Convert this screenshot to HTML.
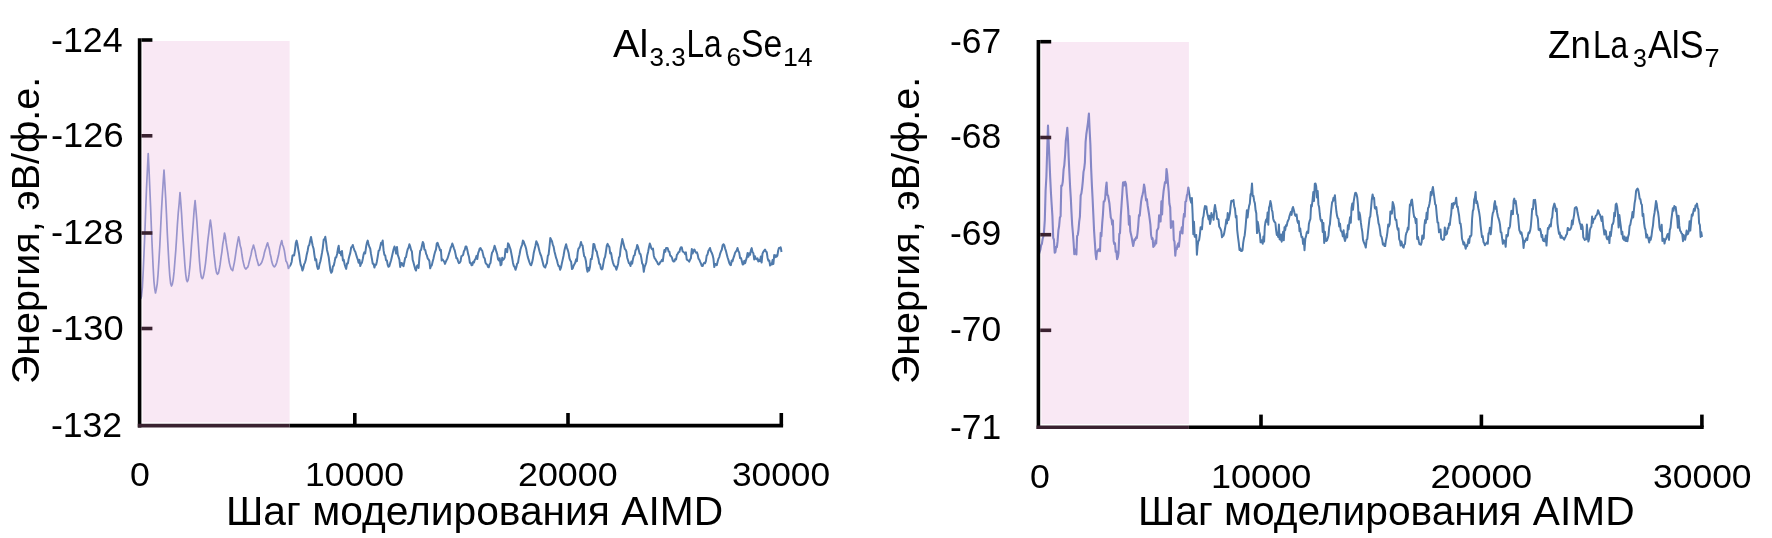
<!DOCTYPE html>
<html><head><meta charset="utf-8"><style>
html,body{margin:0;padding:0;background:#fff;width:1772px;height:538px;overflow:hidden}
svg{display:block;will-change:transform}
text{font-family:"Liberation Sans",sans-serif;fill:#000}
</style></head><body>
<svg width="1772" height="538" viewBox="0 0 1772 538">
<rect width="1772" height="538" fill="#fff"/>
<rect x="142.6" y="41.0" width="147.0" height="381.4" fill="#f9e8f4"/>
<clipPath id="inL"><rect x="0" y="0" width="289.6" height="538"/></clipPath>
<clipPath id="outL"><rect x="289.6" y="0" width="900" height="538"/></clipPath>
<polyline clip-path="url(#inL)" points="140.7,299.0 141.5,296.2 142.4,286.9 143.2,271.6 144.0,253.5 144.9,232.2 145.7,209.8 146.5,188.6 147.4,169.8 148.2,153.6 149.0,169.2 149.8,188.3 150.6,207.3 151.4,228.5 152.3,249.1 153.1,266.3 153.9,280.8 154.7,288.7 155.5,293.0 156.3,289.4 157.2,284.1 158.1,273.8 158.9,261.1 159.8,245.6 160.6,229.0 161.4,212.1 162.3,196.3 163.2,181.8 164.0,170.0 164.8,183.0 165.7,198.4 166.5,214.9 167.3,233.2 168.2,250.1 169.0,264.8 169.8,276.1 170.7,283.8 171.5,286.0 172.3,284.3 173.2,279.6 174.1,271.4 174.9,261.3 175.8,250.1 176.6,237.7 177.4,224.6 178.3,212.3 179.2,203.0 180.0,192.5 180.8,202.7 181.6,214.1 182.4,228.2 183.2,240.7 184.1,253.5 184.9,265.4 185.7,274.1 186.5,280.0 187.3,281.7 188.2,279.9 189.0,274.7 189.9,266.7 190.8,255.3 191.6,243.9 192.5,232.6 193.4,220.6 194.2,209.0 195.1,200.5 196.0,210.5 196.9,221.5 197.8,235.8 198.6,247.6 199.5,261.1 200.4,271.3 201.3,277.0 202.2,278.7 203.0,277.7 203.8,274.3 204.7,269.1 205.5,263.5 206.3,256.1 207.1,247.9 207.9,239.9 208.8,232.8 209.6,225.3 210.4,220.0 211.3,226.7 212.2,235.0 213.1,244.5 213.9,253.2 214.8,260.9 215.7,268.5 216.6,272.8 217.5,274.3 218.4,273.3 219.2,269.8 220.1,264.7 221.0,257.7 221.9,251.8 222.8,243.8 223.6,239.8 224.5,233.0 225.3,236.2 226.1,242.4 227.0,248.1 227.8,252.9 228.6,258.5 229.4,263.1 230.3,266.6 231.1,269.0 231.9,269.8 232.7,270.7 233.6,266.2 234.4,262.3 235.2,257.3 236.1,251.1 236.9,246.0 237.8,240.8 238.6,236.8 239.4,240.1 240.2,245.8 241.1,248.5 241.9,254.5 242.7,259.5 243.5,263.1 244.4,266.8 245.2,268.3 246.0,269.0 246.8,267.9 247.7,267.3 248.5,264.9 249.3,261.5 250.2,257.9 251.0,254.9 251.8,250.5 252.7,247.8 253.5,245.0 254.3,248.1 255.2,251.2 256.0,255.8 256.9,259.6 257.7,262.3 258.6,265.5 259.4,265.3 260.2,264.5 261.0,263.6 261.9,262.0 262.7,259.5 263.5,257.1 264.3,253.1 265.1,250.3 266.0,247.6 266.8,244.9 267.6,242.8 268.4,245.9 269.3,248.8 270.1,253.7 271.0,257.3 271.8,261.8 272.6,264.3 273.5,266.0 274.3,266.8 275.1,266.2 276.0,264.5 276.8,262.2 277.6,258.7 278.5,255.3 279.3,250.8 280.1,246.4 281.0,243.1 281.8,240.6 282.6,245.0 283.4,246.7 284.3,250.4 285.1,255.3 285.9,260.9 286.7,262.0 287.6,264.5 288.4,268.5 289.2,266.8 290.0,265.7 290.8,264.4 291.7,261.7 292.5,255.7 293.3,255.2 294.1,255.5 295.0,250.1 295.8,243.0 296.6,240.6 297.4,243.9 298.3,249.6 299.1,253.8 299.9,260.1 300.7,264.8 301.6,266.7 302.4,270.5 303.3,268.4 304.1,264.4 305.0,262.6 305.8,259.8 306.7,254.7 307.6,251.0 308.4,246.3 309.3,244.9 310.1,240.7 311.0,237.0 311.9,241.8 312.7,245.7 313.6,248.7 314.4,254.8 315.3,260.3 316.2,259.3 317.0,266.0 317.9,269.0 318.7,268.5 319.5,264.1 320.4,261.2 321.2,257.2 322.0,252.9 322.8,247.8 323.7,239.5 324.5,239.5 325.3,236.8 326.2,243.0 327.0,249.9 327.9,253.6 328.7,257.1 329.6,264.4 330.4,270.3 331.3,272.8 332.1,271.5 332.9,266.5 333.8,265.5 334.6,261.8 335.4,257.6 336.2,257.6 337.1,254.0 337.9,249.1 338.7,245.8 339.5,253.1 340.4,252.0 341.2,255.4 342.0,251.0 342.9,260.4 343.7,259.6 344.6,264.2 345.4,266.8 346.2,268.9 347.0,263.6 347.9,263.4 348.7,258.7 349.5,255.6 350.3,252.9 351.2,247.3 352.0,246.9 352.8,245.0 353.6,247.7 354.5,250.5 355.3,251.8 356.1,254.5 357.0,257.4 357.8,259.6 358.6,262.7 359.5,259.9 360.3,266.0 361.1,263.7 361.9,262.9 362.8,258.9 363.6,254.3 364.4,252.2 365.2,253.4 366.1,246.8 366.9,242.9 367.7,240.6 368.5,244.0 369.4,247.0 370.2,248.5 371.0,253.9 371.9,258.7 372.7,263.7 373.6,263.7 374.4,267.6 375.2,264.9 376.1,264.7 376.9,261.4 377.8,256.2 378.6,250.9 379.4,250.3 380.3,246.4 381.1,242.8 381.9,244.5 382.7,240.5 383.6,250.4 384.4,254.9 385.2,255.3 386.0,260.2 386.9,260.5 387.7,264.9 388.5,266.8 389.4,266.1 390.2,263.1 391.1,260.3 391.9,256.7 392.8,252.8 393.6,249.2 394.5,246.5 395.3,248.9 396.1,253.6 397.0,247.0 397.8,254.9 398.6,257.1 399.4,259.7 400.2,267.0 401.1,263.0 401.9,263.0 402.7,265.3 403.5,266.2 404.4,261.7 405.2,257.8 406.0,257.2 406.9,252.4 407.7,249.2 408.6,247.5 409.4,244.3 410.2,246.4 411.0,249.8 411.9,251.5 412.7,260.0 413.5,262.4 414.4,266.0 415.2,269.0 416.0,270.5 416.9,266.2 417.7,265.2 418.6,268.0 419.4,257.7 420.2,250.9 421.1,249.8 421.9,246.0 422.8,242.0 423.6,243.6 424.4,249.5 425.3,250.1 426.1,253.9 426.9,255.4 427.7,258.6 428.5,259.2 429.4,261.0 430.2,268.3 431.0,266.0 431.8,265.4 432.6,261.8 433.5,258.4 434.3,254.7 435.1,251.8 436.0,249.4 436.8,243.5 437.6,242.8 438.4,245.4 439.2,247.3 440.1,250.5 440.9,249.9 441.7,260.6 442.5,259.3 443.4,260.5 444.2,261.7 445.0,263.9 445.8,261.7 446.6,260.0 447.4,258.7 448.2,256.2 449.1,253.3 449.9,250.9 450.7,247.8 451.5,246.2 452.3,243.5 453.1,245.7 453.9,248.3 454.8,250.6 455.6,254.4 456.4,258.2 457.2,258.3 458.1,261.3 458.9,263.1 459.7,262.6 460.6,261.2 461.4,256.2 462.2,255.8 463.1,255.0 463.9,251.2 464.7,249.9 465.6,246.5 466.4,246.5 467.3,249.7 468.1,253.9 469.0,256.8 469.9,262.8 470.7,262.7 471.6,265.3 472.4,264.9 473.2,261.7 474.0,262.5 474.8,259.8 475.6,258.8 476.5,255.9 477.3,259.1 478.1,253.4 478.9,251.1 479.7,248.5 480.5,248.0 481.3,249.7 482.2,250.6 483.0,254.1 483.8,257.4 484.7,258.4 485.5,262.8 486.3,264.0 487.2,264.6 488.0,266.8 488.8,267.3 489.6,264.3 490.5,263.0 491.3,256.6 492.1,252.5 493.0,251.3 493.8,248.8 494.6,245.8 495.5,248.5 496.3,251.4 497.2,254.2 498.0,259.1 498.9,260.5 499.7,258.2 500.6,265.3 501.4,264.6 502.2,257.8 503.1,259.9 503.9,259.0 504.7,257.5 505.5,249.1 506.3,249.2 507.2,252.2 508.0,243.3 508.8,244.3 509.6,246.7 510.5,249.3 511.3,253.2 512.1,257.5 513.0,262.9 513.8,265.9 514.7,267.1 515.5,269.8 516.3,267.5 517.1,263.8 518.0,262.9 518.8,257.7 519.6,254.2 520.4,249.7 521.3,246.8 522.1,244.8 522.9,240.6 523.7,241.4 524.5,244.2 525.4,246.2 526.2,249.1 527.0,253.5 527.8,257.1 528.6,259.6 529.5,262.5 530.3,264.5 531.1,265.3 532.0,262.7 532.8,259.3 533.7,253.1 534.6,249.3 535.4,246.0 536.3,241.3 537.1,243.0 537.9,244.7 538.7,247.9 539.5,251.3 540.3,254.0 541.2,256.0 542.0,259.2 542.8,262.4 543.6,265.7 544.4,266.9 545.2,267.6 546.1,264.7 546.9,263.3 547.8,256.0 548.6,254.6 549.5,246.4 550.3,238.0 551.2,239.8 552.0,241.2 552.8,244.9 553.6,246.6 554.4,251.2 555.2,254.3 556.1,257.9 556.9,260.0 557.7,263.5 558.5,266.0 559.3,266.3 560.1,269.8 561.0,267.7 561.8,263.6 562.7,259.6 563.5,256.0 564.4,250.6 565.2,247.2 566.1,244.3 566.9,247.6 567.8,250.1 568.6,252.9 569.5,258.4 570.3,260.5 571.1,261.6 572.0,269.1 572.8,268.3 573.6,265.8 574.4,264.3 575.3,262.5 576.1,259.3 576.9,261.1 577.7,252.4 578.5,248.5 579.4,247.8 580.2,245.2 581.0,242.0 581.8,245.0 582.6,245.6 583.4,251.5 584.2,256.3 585.0,257.1 585.9,260.9 586.7,268.0 587.5,271.7 588.3,267.8 589.1,270.5 590.0,266.8 590.8,259.0 591.7,259.1 592.6,253.2 593.4,244.1 594.3,244.3 595.1,247.7 595.9,250.5 596.8,251.6 597.6,256.2 598.4,258.5 599.2,263.7 600.1,264.3 600.9,268.6 601.7,269.4 602.5,268.7 603.4,263.4 604.2,258.8 605.1,256.8 605.9,251.8 606.8,245.7 607.6,243.8 608.5,245.9 609.4,247.1 610.2,253.4 611.1,252.9 612.0,258.5 612.9,262.3 613.8,264.9 614.6,266.3 615.5,266.7 616.4,269.8 617.2,267.1 618.1,263.9 618.9,257.8 619.8,256.1 620.6,248.7 621.5,243.7 622.3,239.0 623.1,242.2 623.9,245.2 624.8,248.9 625.6,249.7 626.4,251.7 627.2,257.7 628.0,260.3 628.9,263.2 629.7,263.7 630.5,266.0 631.3,261.6 632.2,263.7 633.0,258.9 633.9,255.6 634.7,255.2 635.5,250.4 636.4,248.9 637.2,245.0 638.0,246.8 638.8,250.2 639.7,253.7 640.5,254.1 641.3,257.9 642.1,263.2 643.0,264.8 643.8,271.8 644.6,266.8 645.5,264.6 646.3,262.2 647.2,255.4 648.1,251.9 648.9,247.5 649.8,243.5 650.6,245.7 651.4,248.5 652.2,249.5 653.0,248.6 653.8,255.7 654.7,258.4 655.5,259.2 656.3,260.9 657.1,261.8 657.9,263.9 658.7,264.6 659.5,263.8 660.3,262.0 661.2,261.4 662.0,259.8 662.8,261.1 663.6,255.1 664.4,249.9 665.3,251.8 666.1,247.9 666.9,248.0 667.7,248.3 668.6,251.5 669.4,251.8 670.2,255.6 671.1,256.2 671.9,257.5 672.8,260.6 673.6,261.6 674.4,261.4 675.2,259.1 676.1,259.4 676.9,254.9 677.7,253.9 678.5,252.2 679.4,251.9 680.2,248.7 681.0,247.2 681.8,247.5 682.6,251.4 683.5,252.0 684.3,252.5 685.1,254.1 685.9,252.4 686.7,259.3 687.6,260.2 688.4,260.6 689.2,261.6 690.1,259.6 690.9,258.2 691.8,249.0 692.7,253.6 693.5,250.6 694.4,249.5 695.2,251.4 696.0,252.7 696.9,252.4 697.7,254.7 698.5,258.7 699.3,259.7 700.1,261.6 701.0,263.6 701.8,265.8 702.6,266.0 703.4,264.1 704.2,262.7 705.1,263.2 705.9,261.1 706.7,255.6 707.5,254.6 708.4,250.7 709.2,249.5 710.0,248.0 710.9,251.2 711.7,252.7 712.6,255.1 713.4,258.4 714.3,267.1 715.1,263.9 716.0,264.6 716.8,265.2 717.6,261.8 718.5,258.6 719.3,257.1 720.1,253.8 720.9,251.5 721.8,249.8 722.6,245.4 723.4,244.2 724.2,245.1 725.1,248.5 725.9,250.8 726.8,254.4 727.6,257.5 728.4,259.9 729.3,263.0 730.1,264.6 730.9,265.2 731.7,260.5 732.6,261.1 733.4,258.1 734.2,255.9 735.0,252.9 735.9,251.4 736.7,250.6 737.5,248.0 738.4,251.3 739.2,252.6 740.1,258.0 741.0,258.0 741.8,261.1 742.7,264.6 743.5,264.4 744.3,260.8 745.2,263.1 746.0,260.1 746.8,257.4 747.6,252.9 748.4,256.8 749.3,253.2 750.1,254.8 750.9,250.2 751.7,248.1 752.5,252.0 753.4,253.3 754.2,259.4 755.0,256.2 755.8,258.7 756.7,259.3 757.5,258.3 758.3,261.6 759.1,260.0 760.0,261.1 760.8,256.6 761.6,262.6 762.5,253.6 763.3,251.8 764.2,250.6 765.0,249.5 765.9,251.5 766.7,252.0 767.6,257.9 768.4,260.7 769.3,260.5 770.1,265.5 771.0,263.8 771.8,264.5 772.6,260.0 773.4,264.0 774.2,255.1 775.0,257.3 775.8,255.3 776.6,256.7 777.4,255.6 778.2,250.5 779.0,247.9 779.8,248.1 780.6,247.2 781.0,248.8 781.5,252.0" fill="none" stroke="#9894cc" stroke-width="1.7" stroke-linejoin="round"/>
<polyline clip-path="url(#outL)" points="140.7,299.0 141.5,296.2 142.4,286.9 143.2,271.6 144.0,253.5 144.9,232.2 145.7,209.8 146.5,188.6 147.4,169.8 148.2,153.6 149.0,169.2 149.8,188.3 150.6,207.3 151.4,228.5 152.3,249.1 153.1,266.3 153.9,280.8 154.7,288.7 155.5,293.0 156.3,289.4 157.2,284.1 158.1,273.8 158.9,261.1 159.8,245.6 160.6,229.0 161.4,212.1 162.3,196.3 163.2,181.8 164.0,170.0 164.8,183.0 165.7,198.4 166.5,214.9 167.3,233.2 168.2,250.1 169.0,264.8 169.8,276.1 170.7,283.8 171.5,286.0 172.3,284.3 173.2,279.6 174.1,271.4 174.9,261.3 175.8,250.1 176.6,237.7 177.4,224.6 178.3,212.3 179.2,203.0 180.0,192.5 180.8,202.7 181.6,214.1 182.4,228.2 183.2,240.7 184.1,253.5 184.9,265.4 185.7,274.1 186.5,280.0 187.3,281.7 188.2,279.9 189.0,274.7 189.9,266.7 190.8,255.3 191.6,243.9 192.5,232.6 193.4,220.6 194.2,209.0 195.1,200.5 196.0,210.5 196.9,221.5 197.8,235.8 198.6,247.6 199.5,261.1 200.4,271.3 201.3,277.0 202.2,278.7 203.0,277.7 203.8,274.3 204.7,269.1 205.5,263.5 206.3,256.1 207.1,247.9 207.9,239.9 208.8,232.8 209.6,225.3 210.4,220.0 211.3,226.7 212.2,235.0 213.1,244.5 213.9,253.2 214.8,260.9 215.7,268.5 216.6,272.8 217.5,274.3 218.4,273.3 219.2,269.8 220.1,264.7 221.0,257.7 221.9,251.8 222.8,243.8 223.6,239.8 224.5,233.0 225.3,236.2 226.1,242.4 227.0,248.1 227.8,252.9 228.6,258.5 229.4,263.1 230.3,266.6 231.1,269.0 231.9,269.8 232.7,270.7 233.6,266.2 234.4,262.3 235.2,257.3 236.1,251.1 236.9,246.0 237.8,240.8 238.6,236.8 239.4,240.1 240.2,245.8 241.1,248.5 241.9,254.5 242.7,259.5 243.5,263.1 244.4,266.8 245.2,268.3 246.0,269.0 246.8,267.9 247.7,267.3 248.5,264.9 249.3,261.5 250.2,257.9 251.0,254.9 251.8,250.5 252.7,247.8 253.5,245.0 254.3,248.1 255.2,251.2 256.0,255.8 256.9,259.6 257.7,262.3 258.6,265.5 259.4,265.3 260.2,264.5 261.0,263.6 261.9,262.0 262.7,259.5 263.5,257.1 264.3,253.1 265.1,250.3 266.0,247.6 266.8,244.9 267.6,242.8 268.4,245.9 269.3,248.8 270.1,253.7 271.0,257.3 271.8,261.8 272.6,264.3 273.5,266.0 274.3,266.8 275.1,266.2 276.0,264.5 276.8,262.2 277.6,258.7 278.5,255.3 279.3,250.8 280.1,246.4 281.0,243.1 281.8,240.6 282.6,245.0 283.4,246.7 284.3,250.4 285.1,255.3 285.9,260.9 286.7,262.0 287.6,264.5 288.4,268.5 289.2,266.8 290.0,265.7 290.8,264.4 291.7,261.7 292.5,255.7 293.3,255.2 294.1,255.5 295.0,250.1 295.8,243.0 296.6,240.6 297.4,243.9 298.3,249.6 299.1,253.8 299.9,260.1 300.7,264.8 301.6,266.7 302.4,270.5 303.3,268.4 304.1,264.4 305.0,262.6 305.8,259.8 306.7,254.7 307.6,251.0 308.4,246.3 309.3,244.9 310.1,240.7 311.0,237.0 311.9,241.8 312.7,245.7 313.6,248.7 314.4,254.8 315.3,260.3 316.2,259.3 317.0,266.0 317.9,269.0 318.7,268.5 319.5,264.1 320.4,261.2 321.2,257.2 322.0,252.9 322.8,247.8 323.7,239.5 324.5,239.5 325.3,236.8 326.2,243.0 327.0,249.9 327.9,253.6 328.7,257.1 329.6,264.4 330.4,270.3 331.3,272.8 332.1,271.5 332.9,266.5 333.8,265.5 334.6,261.8 335.4,257.6 336.2,257.6 337.1,254.0 337.9,249.1 338.7,245.8 339.5,253.1 340.4,252.0 341.2,255.4 342.0,251.0 342.9,260.4 343.7,259.6 344.6,264.2 345.4,266.8 346.2,268.9 347.0,263.6 347.9,263.4 348.7,258.7 349.5,255.6 350.3,252.9 351.2,247.3 352.0,246.9 352.8,245.0 353.6,247.7 354.5,250.5 355.3,251.8 356.1,254.5 357.0,257.4 357.8,259.6 358.6,262.7 359.5,259.9 360.3,266.0 361.1,263.7 361.9,262.9 362.8,258.9 363.6,254.3 364.4,252.2 365.2,253.4 366.1,246.8 366.9,242.9 367.7,240.6 368.5,244.0 369.4,247.0 370.2,248.5 371.0,253.9 371.9,258.7 372.7,263.7 373.6,263.7 374.4,267.6 375.2,264.9 376.1,264.7 376.9,261.4 377.8,256.2 378.6,250.9 379.4,250.3 380.3,246.4 381.1,242.8 381.9,244.5 382.7,240.5 383.6,250.4 384.4,254.9 385.2,255.3 386.0,260.2 386.9,260.5 387.7,264.9 388.5,266.8 389.4,266.1 390.2,263.1 391.1,260.3 391.9,256.7 392.8,252.8 393.6,249.2 394.5,246.5 395.3,248.9 396.1,253.6 397.0,247.0 397.8,254.9 398.6,257.1 399.4,259.7 400.2,267.0 401.1,263.0 401.9,263.0 402.7,265.3 403.5,266.2 404.4,261.7 405.2,257.8 406.0,257.2 406.9,252.4 407.7,249.2 408.6,247.5 409.4,244.3 410.2,246.4 411.0,249.8 411.9,251.5 412.7,260.0 413.5,262.4 414.4,266.0 415.2,269.0 416.0,270.5 416.9,266.2 417.7,265.2 418.6,268.0 419.4,257.7 420.2,250.9 421.1,249.8 421.9,246.0 422.8,242.0 423.6,243.6 424.4,249.5 425.3,250.1 426.1,253.9 426.9,255.4 427.7,258.6 428.5,259.2 429.4,261.0 430.2,268.3 431.0,266.0 431.8,265.4 432.6,261.8 433.5,258.4 434.3,254.7 435.1,251.8 436.0,249.4 436.8,243.5 437.6,242.8 438.4,245.4 439.2,247.3 440.1,250.5 440.9,249.9 441.7,260.6 442.5,259.3 443.4,260.5 444.2,261.7 445.0,263.9 445.8,261.7 446.6,260.0 447.4,258.7 448.2,256.2 449.1,253.3 449.9,250.9 450.7,247.8 451.5,246.2 452.3,243.5 453.1,245.7 453.9,248.3 454.8,250.6 455.6,254.4 456.4,258.2 457.2,258.3 458.1,261.3 458.9,263.1 459.7,262.6 460.6,261.2 461.4,256.2 462.2,255.8 463.1,255.0 463.9,251.2 464.7,249.9 465.6,246.5 466.4,246.5 467.3,249.7 468.1,253.9 469.0,256.8 469.9,262.8 470.7,262.7 471.6,265.3 472.4,264.9 473.2,261.7 474.0,262.5 474.8,259.8 475.6,258.8 476.5,255.9 477.3,259.1 478.1,253.4 478.9,251.1 479.7,248.5 480.5,248.0 481.3,249.7 482.2,250.6 483.0,254.1 483.8,257.4 484.7,258.4 485.5,262.8 486.3,264.0 487.2,264.6 488.0,266.8 488.8,267.3 489.6,264.3 490.5,263.0 491.3,256.6 492.1,252.5 493.0,251.3 493.8,248.8 494.6,245.8 495.5,248.5 496.3,251.4 497.2,254.2 498.0,259.1 498.9,260.5 499.7,258.2 500.6,265.3 501.4,264.6 502.2,257.8 503.1,259.9 503.9,259.0 504.7,257.5 505.5,249.1 506.3,249.2 507.2,252.2 508.0,243.3 508.8,244.3 509.6,246.7 510.5,249.3 511.3,253.2 512.1,257.5 513.0,262.9 513.8,265.9 514.7,267.1 515.5,269.8 516.3,267.5 517.1,263.8 518.0,262.9 518.8,257.7 519.6,254.2 520.4,249.7 521.3,246.8 522.1,244.8 522.9,240.6 523.7,241.4 524.5,244.2 525.4,246.2 526.2,249.1 527.0,253.5 527.8,257.1 528.6,259.6 529.5,262.5 530.3,264.5 531.1,265.3 532.0,262.7 532.8,259.3 533.7,253.1 534.6,249.3 535.4,246.0 536.3,241.3 537.1,243.0 537.9,244.7 538.7,247.9 539.5,251.3 540.3,254.0 541.2,256.0 542.0,259.2 542.8,262.4 543.6,265.7 544.4,266.9 545.2,267.6 546.1,264.7 546.9,263.3 547.8,256.0 548.6,254.6 549.5,246.4 550.3,238.0 551.2,239.8 552.0,241.2 552.8,244.9 553.6,246.6 554.4,251.2 555.2,254.3 556.1,257.9 556.9,260.0 557.7,263.5 558.5,266.0 559.3,266.3 560.1,269.8 561.0,267.7 561.8,263.6 562.7,259.6 563.5,256.0 564.4,250.6 565.2,247.2 566.1,244.3 566.9,247.6 567.8,250.1 568.6,252.9 569.5,258.4 570.3,260.5 571.1,261.6 572.0,269.1 572.8,268.3 573.6,265.8 574.4,264.3 575.3,262.5 576.1,259.3 576.9,261.1 577.7,252.4 578.5,248.5 579.4,247.8 580.2,245.2 581.0,242.0 581.8,245.0 582.6,245.6 583.4,251.5 584.2,256.3 585.0,257.1 585.9,260.9 586.7,268.0 587.5,271.7 588.3,267.8 589.1,270.5 590.0,266.8 590.8,259.0 591.7,259.1 592.6,253.2 593.4,244.1 594.3,244.3 595.1,247.7 595.9,250.5 596.8,251.6 597.6,256.2 598.4,258.5 599.2,263.7 600.1,264.3 600.9,268.6 601.7,269.4 602.5,268.7 603.4,263.4 604.2,258.8 605.1,256.8 605.9,251.8 606.8,245.7 607.6,243.8 608.5,245.9 609.4,247.1 610.2,253.4 611.1,252.9 612.0,258.5 612.9,262.3 613.8,264.9 614.6,266.3 615.5,266.7 616.4,269.8 617.2,267.1 618.1,263.9 618.9,257.8 619.8,256.1 620.6,248.7 621.5,243.7 622.3,239.0 623.1,242.2 623.9,245.2 624.8,248.9 625.6,249.7 626.4,251.7 627.2,257.7 628.0,260.3 628.9,263.2 629.7,263.7 630.5,266.0 631.3,261.6 632.2,263.7 633.0,258.9 633.9,255.6 634.7,255.2 635.5,250.4 636.4,248.9 637.2,245.0 638.0,246.8 638.8,250.2 639.7,253.7 640.5,254.1 641.3,257.9 642.1,263.2 643.0,264.8 643.8,271.8 644.6,266.8 645.5,264.6 646.3,262.2 647.2,255.4 648.1,251.9 648.9,247.5 649.8,243.5 650.6,245.7 651.4,248.5 652.2,249.5 653.0,248.6 653.8,255.7 654.7,258.4 655.5,259.2 656.3,260.9 657.1,261.8 657.9,263.9 658.7,264.6 659.5,263.8 660.3,262.0 661.2,261.4 662.0,259.8 662.8,261.1 663.6,255.1 664.4,249.9 665.3,251.8 666.1,247.9 666.9,248.0 667.7,248.3 668.6,251.5 669.4,251.8 670.2,255.6 671.1,256.2 671.9,257.5 672.8,260.6 673.6,261.6 674.4,261.4 675.2,259.1 676.1,259.4 676.9,254.9 677.7,253.9 678.5,252.2 679.4,251.9 680.2,248.7 681.0,247.2 681.8,247.5 682.6,251.4 683.5,252.0 684.3,252.5 685.1,254.1 685.9,252.4 686.7,259.3 687.6,260.2 688.4,260.6 689.2,261.6 690.1,259.6 690.9,258.2 691.8,249.0 692.7,253.6 693.5,250.6 694.4,249.5 695.2,251.4 696.0,252.7 696.9,252.4 697.7,254.7 698.5,258.7 699.3,259.7 700.1,261.6 701.0,263.6 701.8,265.8 702.6,266.0 703.4,264.1 704.2,262.7 705.1,263.2 705.9,261.1 706.7,255.6 707.5,254.6 708.4,250.7 709.2,249.5 710.0,248.0 710.9,251.2 711.7,252.7 712.6,255.1 713.4,258.4 714.3,267.1 715.1,263.9 716.0,264.6 716.8,265.2 717.6,261.8 718.5,258.6 719.3,257.1 720.1,253.8 720.9,251.5 721.8,249.8 722.6,245.4 723.4,244.2 724.2,245.1 725.1,248.5 725.9,250.8 726.8,254.4 727.6,257.5 728.4,259.9 729.3,263.0 730.1,264.6 730.9,265.2 731.7,260.5 732.6,261.1 733.4,258.1 734.2,255.9 735.0,252.9 735.9,251.4 736.7,250.6 737.5,248.0 738.4,251.3 739.2,252.6 740.1,258.0 741.0,258.0 741.8,261.1 742.7,264.6 743.5,264.4 744.3,260.8 745.2,263.1 746.0,260.1 746.8,257.4 747.6,252.9 748.4,256.8 749.3,253.2 750.1,254.8 750.9,250.2 751.7,248.1 752.5,252.0 753.4,253.3 754.2,259.4 755.0,256.2 755.8,258.7 756.7,259.3 757.5,258.3 758.3,261.6 759.1,260.0 760.0,261.1 760.8,256.6 761.6,262.6 762.5,253.6 763.3,251.8 764.2,250.6 765.0,249.5 765.9,251.5 766.7,252.0 767.6,257.9 768.4,260.7 769.3,260.5 770.1,265.5 771.0,263.8 771.8,264.5 772.6,260.0 773.4,264.0 774.2,255.1 775.0,257.3 775.8,255.3 776.6,256.7 777.4,255.6 778.2,250.5 779.0,247.9 779.8,248.1 780.6,247.2 781.0,248.8 781.5,252.0" fill="none" stroke="#4f7aab" stroke-width="2.0" stroke-linejoin="round"/>
<path d="M139.6,38.2 V427.40000000000003" stroke="#000" stroke-width="3.6" fill="none"/>
<path d="M137.79999999999998,425.6 H289.6" stroke="#3a2230" stroke-width="3.6" fill="none"/>
<path d="M289.6,425.6 H783.0999999999999" stroke="#000" stroke-width="3.6" fill="none"/>
<path d="M141.4,40.0 H152.4" stroke="#000" stroke-width="3.6"/>
<path d="M141.4,135.8 H152.4" stroke="#3a2230" stroke-width="3.6"/>
<path d="M141.4,233.0 H152.4" stroke="#3a2230" stroke-width="3.6"/>
<path d="M141.4,328.5 H152.4" stroke="#3a2230" stroke-width="3.6"/>
<path d="M354.8,425.6 V413.0" stroke="#000" stroke-width="3.6"/>
<path d="M568.0,425.6 V413.0" stroke="#000" stroke-width="3.6"/>
<path d="M781.3,425.6 V413.0" stroke="#000" stroke-width="3.6"/>
<rect x="1041.4" y="42.0" width="147.5" height="382.0" fill="#f9e8f4"/>
<clipPath id="inR"><rect x="0" y="0" width="1188.9" height="538"/></clipPath>
<clipPath id="outR"><rect x="1188.9" y="0" width="900" height="538"/></clipPath>
<polyline clip-path="url(#inR)" points="1039.0,254.0 1039.7,251.7 1040.4,249.7 1041.1,245.4 1041.9,243.8 1042.6,239.0 1043.3,236.7 1044.0,232.0 1044.8,220.2 1045.6,190.9 1046.4,176.5 1047.2,149.7 1048.0,125.6 1048.7,142.2 1049.5,161.0 1050.2,177.6 1051.0,193.7 1051.7,205.0 1052.4,215.9 1053.2,237.8 1053.9,239.5 1054.7,252.7 1055.4,252.0 1056.1,246.9 1056.9,247.2 1057.6,241.2 1058.4,230.4 1059.1,226.3 1059.9,217.5 1060.6,216.2 1061.3,185.6 1062.1,185.7 1062.8,181.5 1063.6,169.4 1064.3,165.3 1065.1,155.0 1065.8,141.0 1066.6,134.8 1067.3,127.8 1068.0,139.2 1068.7,157.6 1069.4,172.8 1070.1,186.8 1070.8,197.7 1071.5,212.4 1072.2,225.1 1072.9,233.0 1073.6,242.5 1074.3,254.1 1075.0,253.0 1075.7,249.4 1076.4,254.4 1077.1,236.0 1077.8,235.0 1078.5,229.8 1079.2,221.6 1079.9,216.6 1080.7,195.3 1081.4,193.3 1082.1,188.3 1082.8,181.3 1083.5,171.9 1084.2,168.6 1084.9,162.3 1085.6,141.8 1086.3,134.5 1087.2,128.2 1088.0,122.3 1088.9,113.6 1089.6,129.3 1090.4,144.7 1091.1,167.2 1091.9,185.4 1092.6,198.7 1093.3,213.8 1094.1,231.1 1094.8,241.6 1095.6,253.9 1096.3,259.2 1097.0,251.3 1097.8,251.3 1098.5,249.2 1099.2,249.2 1100.0,251.2 1100.7,232.7 1101.4,236.2 1102.2,223.4 1102.9,215.1 1103.7,201.6 1104.4,201.5 1105.1,199.0 1105.9,188.0 1106.6,182.5 1107.3,194.8 1108.0,195.3 1108.7,199.2 1109.4,203.2 1110.1,210.5 1110.8,217.6 1111.5,219.1 1112.2,224.5 1112.9,220.5 1113.6,240.9 1114.3,244.0 1115.0,243.2 1115.7,251.8 1116.4,251.2 1117.1,259.1 1117.8,257.2 1118.5,253.3 1119.3,234.0 1120.0,233.1 1120.8,215.6 1121.5,205.6 1122.3,193.5 1123.0,182.5 1123.8,182.3 1124.5,185.4 1125.2,181.9 1126.0,184.0 1126.7,193.2 1127.4,200.6 1128.2,209.8 1128.9,224.8 1129.6,216.1 1130.3,231.2 1131.0,234.3 1131.8,238.0 1132.5,242.4 1133.2,246.0 1133.9,242.3 1134.6,239.3 1135.4,239.8 1136.1,237.4 1136.8,238.0 1137.5,233.1 1138.2,226.1 1139.0,215.1 1139.7,215.8 1140.4,208.4 1141.1,201.7 1141.8,197.4 1142.6,194.3 1143.3,191.1 1144.0,184.5 1144.7,187.8 1145.4,194.3 1146.1,200.4 1146.9,199.2 1147.6,205.4 1148.3,209.5 1149.0,213.9 1149.7,219.1 1150.4,224.6 1151.1,235.1 1151.9,239.0 1152.6,238.2 1153.3,247.0 1154.0,246.0 1154.7,245.2 1155.5,240.3 1156.2,243.5 1156.9,230.6 1157.7,229.3 1158.4,227.6 1159.1,215.4 1159.9,215.9 1160.6,221.5 1161.4,201.3 1162.1,214.5 1162.8,199.0 1163.6,190.9 1164.3,186.4 1165.0,182.0 1165.8,183.0 1166.5,169.0 1167.2,173.9 1168.0,183.9 1168.7,191.5 1169.4,203.7 1170.2,207.2 1170.9,227.9 1171.6,221.3 1172.3,226.5 1173.1,221.2 1173.8,239.9 1174.5,241.7 1175.3,255.6 1176.0,248.0 1176.7,249.2 1177.4,245.5 1178.2,243.4 1178.9,246.7 1179.6,240.0 1180.3,231.6 1181.1,232.6 1181.8,227.4 1182.5,233.5 1183.2,220.8 1184.0,213.8 1184.7,216.6 1185.4,201.7 1186.1,201.4 1186.9,195.4 1187.6,193.2 1188.3,187.5 1189.0,192.1 1189.7,196.4 1190.4,200.0 1191.2,202.7 1191.9,198.1 1192.6,213.5 1193.3,234.3 1194.0,221.7 1194.7,236.7 1195.5,237.2 1196.2,234.9 1196.9,254.7 1197.6,246.0 1198.3,241.4 1199.1,240.0 1199.8,235.3 1200.6,227.3 1201.3,227.7 1202.0,229.3 1202.8,218.4 1203.5,216.3 1204.3,209.5 1205.0,206.0 1205.7,208.7 1206.4,206.5 1207.1,212.8 1207.9,215.9 1208.6,219.4 1209.3,215.8 1210.0,224.0 1210.7,221.0 1211.4,212.9 1212.1,217.0 1212.9,215.4 1213.6,219.8 1214.3,209.4 1215.0,205.0 1215.7,209.5 1216.4,212.5 1217.1,218.9 1217.8,218.8 1218.5,219.7 1219.2,226.7 1219.9,227.7 1220.6,229.1 1221.3,231.2 1222.0,237.3 1222.7,236.0 1223.4,235.8 1224.1,233.6 1224.9,229.3 1225.6,225.1 1226.3,219.5 1227.0,223.5 1227.7,213.1 1228.5,220.1 1229.2,216.8 1229.9,213.6 1230.6,206.2 1231.3,200.8 1232.1,201.1 1232.8,201.5 1233.5,200.0 1234.2,206.2 1235.0,208.9 1235.8,217.4 1236.5,215.8 1237.2,230.1 1238.0,237.1 1238.8,243.2 1239.5,249.9 1240.2,248.5 1241.0,251.0 1241.7,251.1 1242.5,250.1 1243.2,242.8 1243.9,238.6 1244.7,235.2 1245.4,228.6 1246.1,220.3 1246.9,210.2 1247.6,217.5 1248.3,210.9 1249.1,205.9 1249.8,203.6 1250.5,194.9 1251.3,192.2 1252.0,183.6 1252.7,195.9 1253.4,195.7 1254.1,200.7 1254.9,203.4 1255.6,210.3 1256.3,213.3 1257.0,233.1 1257.7,221.8 1258.4,225.3 1259.1,231.4 1259.9,234.3 1260.6,242.3 1261.3,240.3 1262.0,241.0 1262.7,243.8 1263.4,236.5 1264.1,241.6 1264.8,226.7 1265.5,221.8 1266.2,219.6 1266.9,221.7 1267.6,212.4 1268.3,224.8 1269.0,207.5 1269.7,205.7 1270.4,201.0 1271.1,203.9 1271.8,209.7 1272.5,211.9 1273.2,218.7 1273.9,220.9 1274.6,222.0 1275.4,222.9 1276.1,230.0 1276.8,234.9 1277.5,233.6 1278.2,237.0 1278.9,224.5 1279.6,239.3 1280.3,239.8 1281.0,234.6 1281.7,241.7 1282.4,237.0 1283.1,231.8 1283.8,240.2 1284.5,227.2 1285.2,230.2 1285.9,225.2 1286.7,225.9 1287.4,222.2 1288.1,220.5 1288.8,219.1 1289.5,216.1 1290.2,213.8 1290.9,211.7 1291.6,214.9 1292.3,208.9 1293.0,207.0 1293.7,209.5 1294.4,212.5 1295.2,215.4 1295.9,216.0 1296.6,214.5 1297.3,220.6 1298.0,222.9 1298.8,221.1 1299.5,231.3 1300.2,228.4 1300.9,234.0 1301.6,237.2 1302.4,237.0 1303.1,243.9 1303.8,239.3 1304.5,250.2 1305.3,238.6 1306.0,236.4 1306.7,232.6 1307.5,231.2 1308.2,233.0 1308.9,223.9 1309.7,220.8 1310.4,218.8 1311.1,205.1 1311.8,206.4 1312.6,199.6 1313.3,192.0 1314.0,201.0 1314.8,183.7 1315.5,183.6 1316.2,186.3 1316.9,197.4 1317.7,191.0 1318.4,204.4 1319.1,206.9 1319.8,214.0 1320.5,219.5 1321.3,221.5 1322.0,220.1 1322.7,231.9 1323.4,222.9 1324.2,242.9 1324.9,231.8 1325.6,239.3 1326.3,241.0 1327.0,240.5 1327.8,237.9 1328.5,235.4 1329.2,227.1 1329.9,224.3 1330.6,216.1 1331.3,209.0 1332.1,202.4 1332.8,201.3 1333.5,197.8 1334.2,200.2 1334.9,195.2 1335.7,204.9 1336.4,211.5 1337.1,215.9 1337.8,218.2 1338.5,218.7 1339.2,226.4 1340.0,223.6 1340.7,230.3 1341.4,231.6 1342.1,232.2 1342.8,236.3 1343.6,230.3 1344.3,238.3 1345.0,241.0 1345.7,238.4 1346.5,234.1 1347.2,237.4 1347.9,225.2 1348.6,229.5 1349.4,222.2 1350.1,217.2 1350.8,222.8 1351.5,208.2 1352.3,203.4 1353.0,209.7 1353.7,201.4 1354.4,197.2 1355.2,192.9 1355.9,192.8 1356.6,194.5 1357.3,197.8 1358.0,205.1 1358.7,219.4 1359.4,212.4 1360.1,215.5 1360.9,222.9 1361.6,227.9 1362.3,231.9 1363.0,239.6 1363.7,241.9 1364.4,243.5 1365.1,245.2 1365.8,247.6 1366.6,239.8 1367.3,239.1 1368.1,231.0 1368.8,224.8 1369.6,217.8 1370.3,216.5 1371.1,207.5 1371.8,199.6 1372.6,194.4 1373.3,198.5 1374.1,197.9 1374.8,208.0 1375.5,208.7 1376.3,207.1 1377.0,213.2 1377.8,217.5 1378.5,223.2 1379.2,225.2 1380.0,230.1 1380.7,235.7 1381.5,236.8 1382.2,239.8 1382.9,244.6 1383.7,243.6 1384.4,246.0 1385.2,246.1 1385.9,240.7 1386.7,237.0 1387.4,232.3 1388.2,224.6 1388.9,226.5 1389.7,223.9 1390.4,211.4 1391.2,211.9 1391.9,213.6 1392.7,202.0 1393.4,204.0 1394.2,207.6 1394.9,217.2 1395.6,220.0 1396.3,219.7 1397.1,226.6 1397.8,229.8 1398.5,228.5 1399.2,239.1 1400.0,241.1 1400.7,245.5 1401.4,241.4 1402.1,244.2 1402.9,246.9 1403.6,247.7 1404.3,244.5 1405.0,244.0 1405.7,235.8 1406.4,232.8 1407.1,231.7 1407.8,227.6 1408.5,229.5 1409.2,215.7 1409.9,204.5 1410.6,205.5 1411.3,200.4 1412.0,199.5 1412.8,206.7 1413.5,212.8 1414.2,217.1 1415.0,217.5 1415.8,223.0 1416.5,218.9 1417.2,239.0 1418.0,236.9 1418.8,241.2 1419.5,244.3 1420.2,244.0 1420.9,244.7 1421.6,242.4 1422.3,235.6 1423.0,239.0 1423.7,238.1 1424.4,225.6 1425.1,220.0 1425.8,223.0 1426.6,212.8 1427.3,219.3 1428.0,208.1 1428.7,207.3 1429.4,204.0 1430.1,199.8 1430.8,191.9 1431.5,195.3 1432.2,190.3 1432.9,187.0 1433.7,192.9 1434.4,198.2 1435.2,204.3 1435.9,205.1 1436.7,214.3 1437.5,222.4 1438.2,222.4 1439.0,232.3 1439.7,231.1 1440.5,229.5 1441.2,238.7 1442.0,239.3 1442.7,240.0 1443.4,239.6 1444.1,239.2 1444.8,227.4 1445.6,234.9 1446.3,234.5 1447.0,233.6 1447.7,227.9 1448.4,228.6 1449.1,223.5 1449.8,225.0 1450.5,218.4 1451.2,213.8 1451.9,203.8 1452.7,208.3 1453.4,203.1 1454.1,204.5 1454.8,203.2 1455.5,202.0 1456.2,197.7 1457.0,206.8 1457.7,206.6 1458.4,211.6 1459.1,215.5 1459.9,223.3 1460.6,223.7 1461.3,229.2 1462.0,238.8 1462.8,241.2 1463.5,244.6 1464.2,242.4 1464.9,245.2 1465.7,248.7 1466.4,245.2 1467.1,246.2 1467.8,243.2 1468.5,239.3 1469.2,243.0 1469.9,236.3 1470.6,236.6 1471.4,235.0 1472.1,219.0 1472.8,211.2 1473.5,209.2 1474.2,199.6 1474.9,197.7 1475.6,192.0 1476.3,203.1 1477.0,201.3 1477.7,204.5 1478.5,209.3 1479.2,212.6 1479.9,217.4 1480.6,225.5 1481.3,231.7 1482.0,237.0 1482.7,236.1 1483.5,242.0 1484.2,243.2 1484.9,245.3 1485.6,244.3 1486.3,243.2 1487.0,242.2 1487.8,243.8 1488.5,233.4 1489.2,232.6 1489.9,227.7 1490.7,234.3 1491.4,227.6 1492.1,217.6 1492.8,213.2 1493.6,211.3 1494.3,204.0 1495.0,201.1 1495.7,208.8 1496.4,206.5 1497.1,212.4 1497.9,216.5 1498.6,218.6 1499.3,221.0 1500.0,224.6 1500.7,232.2 1501.4,232.4 1502.1,238.0 1502.9,243.8 1503.6,240.2 1504.3,241.0 1505.0,242.6 1505.7,246.8 1506.4,235.1 1507.1,236.6 1507.9,235.6 1508.6,228.0 1509.3,228.3 1510.0,226.2 1510.7,218.1 1511.4,210.8 1512.2,214.2 1512.9,214.1 1513.6,200.9 1514.3,198.6 1515.0,203.3 1515.7,201.0 1516.4,206.5 1517.2,213.8 1517.9,214.7 1518.6,222.5 1519.3,230.0 1520.0,231.6 1520.7,233.8 1521.4,232.3 1522.2,236.3 1522.9,239.4 1523.6,248.0 1524.3,241.0 1525.0,241.8 1525.7,239.8 1526.5,238.2 1527.2,240.0 1527.9,235.8 1528.6,232.4 1529.3,233.3 1530.1,230.8 1530.8,226.5 1531.5,218.5 1532.2,208.8 1533.0,209.1 1533.7,200.1 1534.4,201.1 1535.1,199.9 1535.8,205.9 1536.5,215.0 1537.2,216.0 1537.9,219.0 1538.6,229.7 1539.4,230.3 1540.1,228.9 1540.8,231.5 1541.5,236.9 1542.2,234.9 1542.9,240.2 1543.6,241.0 1544.3,239.3 1545.0,241.4 1545.8,235.6 1546.5,245.6 1547.2,236.2 1547.9,228.1 1548.6,228.9 1549.4,225.7 1550.1,224.5 1550.8,226.5 1551.5,219.1 1552.2,217.4 1553.0,208.5 1553.7,205.9 1554.4,203.6 1555.2,206.5 1555.9,211.2 1556.7,208.7 1557.5,223.3 1558.2,228.5 1559.0,233.8 1559.7,232.3 1560.5,237.7 1561.3,235.6 1562.0,237.9 1562.8,237.6 1563.5,238.7 1564.2,239.7 1564.9,237.9 1565.6,236.7 1566.3,234.8 1567.0,234.0 1567.7,228.0 1568.4,228.3 1569.1,230.1 1569.9,229.9 1570.6,229.0 1571.3,227.2 1572.0,220.4 1572.7,224.5 1573.4,218.9 1574.1,214.8 1574.8,208.2 1575.5,207.5 1576.2,207.0 1576.9,208.5 1577.6,212.8 1578.3,216.1 1579.1,220.1 1579.8,223.0 1580.5,224.8 1581.2,229.0 1581.9,224.4 1582.6,227.0 1583.3,237.3 1584.1,238.8 1584.8,239.9 1585.5,239.2 1586.2,239.3 1586.9,224.6 1587.7,236.4 1588.4,241.5 1589.2,238.4 1589.9,230.3 1590.6,227.8 1591.4,226.6 1592.1,216.6 1592.8,223.1 1593.6,219.1 1594.3,219.3 1595.0,218.2 1595.8,215.8 1596.5,215.3 1597.3,213.4 1598.0,210.3 1598.7,211.7 1599.4,214.1 1600.1,214.9 1600.9,217.9 1601.6,221.1 1602.3,216.4 1603.0,224.5 1603.7,229.4 1604.4,234.6 1605.1,230.3 1605.9,231.3 1606.6,237.9 1607.3,239.3 1608.0,239.3 1608.7,236.6 1609.4,243.1 1610.1,232.1 1610.8,236.2 1611.5,230.1 1612.2,224.5 1612.9,223.9 1613.6,221.5 1614.3,212.7 1615.0,216.3 1615.7,204.5 1616.4,203.6 1617.1,206.4 1617.9,213.1 1618.6,227.4 1619.4,215.0 1620.1,221.2 1620.8,226.2 1621.6,234.2 1622.3,231.6 1623.0,238.5 1623.8,239.7 1624.5,236.5 1625.3,240.7 1626.0,241.0 1626.7,237.4 1627.4,241.3 1628.2,236.4 1628.9,234.1 1629.6,226.0 1630.3,224.8 1631.0,220.8 1631.8,217.8 1632.5,212.0 1633.2,217.5 1633.9,210.1 1634.6,203.1 1635.3,199.3 1636.1,190.9 1636.8,189.4 1637.5,188.6 1638.2,189.8 1639.0,194.0 1639.7,198.8 1640.4,199.1 1641.2,203.8 1641.9,204.8 1642.6,215.9 1643.3,213.9 1644.1,223.0 1644.8,227.9 1645.5,229.8 1646.3,237.6 1647.0,234.4 1647.7,237.1 1648.5,239.0 1649.2,242.6 1650.0,237.6 1650.7,239.9 1651.5,236.0 1652.2,230.2 1653.0,225.3 1653.7,217.7 1654.5,213.0 1655.2,207.7 1656.0,201.1 1656.7,203.7 1657.4,209.9 1658.1,212.3 1658.8,217.9 1659.5,227.2 1660.2,229.9 1661.0,231.1 1661.7,224.7 1662.4,240.9 1663.1,239.4 1663.8,238.7 1664.5,243.6 1665.2,240.0 1666.0,239.1 1666.7,236.9 1667.5,234.3 1668.2,233.8 1669.0,239.8 1669.8,229.8 1670.5,227.8 1671.3,219.9 1672.0,214.6 1672.8,208.2 1673.5,210.8 1674.3,206.1 1675.0,207.1 1675.7,207.1 1676.5,213.6 1677.2,218.0 1677.9,227.7 1678.6,215.7 1679.3,225.9 1680.1,230.7 1680.8,231.4 1681.5,233.4 1682.2,233.8 1683.0,241.2 1683.7,235.0 1684.4,237.6 1685.1,239.7 1685.9,235.8 1686.6,230.6 1687.4,234.4 1688.1,233.7 1688.8,231.3 1689.6,221.2 1690.3,230.6 1691.1,220.9 1691.8,214.5 1692.6,215.6 1693.3,211.8 1694.0,208.7 1694.8,210.8 1695.5,205.5 1696.3,206.1 1697.0,203.6 1697.7,208.1 1698.4,209.2 1699.1,223.2 1699.9,225.2 1700.6,237.0 1701.3,232.3 1702.0,237.0" fill="none" stroke="#8587c6" stroke-width="2.1" stroke-linejoin="round"/>
<polyline clip-path="url(#outR)" points="1039.0,254.0 1039.7,251.7 1040.4,249.7 1041.1,245.4 1041.9,243.8 1042.6,239.0 1043.3,236.7 1044.0,232.0 1044.8,220.2 1045.6,190.9 1046.4,176.5 1047.2,149.7 1048.0,125.6 1048.7,142.2 1049.5,161.0 1050.2,177.6 1051.0,193.7 1051.7,205.0 1052.4,215.9 1053.2,237.8 1053.9,239.5 1054.7,252.7 1055.4,252.0 1056.1,246.9 1056.9,247.2 1057.6,241.2 1058.4,230.4 1059.1,226.3 1059.9,217.5 1060.6,216.2 1061.3,185.6 1062.1,185.7 1062.8,181.5 1063.6,169.4 1064.3,165.3 1065.1,155.0 1065.8,141.0 1066.6,134.8 1067.3,127.8 1068.0,139.2 1068.7,157.6 1069.4,172.8 1070.1,186.8 1070.8,197.7 1071.5,212.4 1072.2,225.1 1072.9,233.0 1073.6,242.5 1074.3,254.1 1075.0,253.0 1075.7,249.4 1076.4,254.4 1077.1,236.0 1077.8,235.0 1078.5,229.8 1079.2,221.6 1079.9,216.6 1080.7,195.3 1081.4,193.3 1082.1,188.3 1082.8,181.3 1083.5,171.9 1084.2,168.6 1084.9,162.3 1085.6,141.8 1086.3,134.5 1087.2,128.2 1088.0,122.3 1088.9,113.6 1089.6,129.3 1090.4,144.7 1091.1,167.2 1091.9,185.4 1092.6,198.7 1093.3,213.8 1094.1,231.1 1094.8,241.6 1095.6,253.9 1096.3,259.2 1097.0,251.3 1097.8,251.3 1098.5,249.2 1099.2,249.2 1100.0,251.2 1100.7,232.7 1101.4,236.2 1102.2,223.4 1102.9,215.1 1103.7,201.6 1104.4,201.5 1105.1,199.0 1105.9,188.0 1106.6,182.5 1107.3,194.8 1108.0,195.3 1108.7,199.2 1109.4,203.2 1110.1,210.5 1110.8,217.6 1111.5,219.1 1112.2,224.5 1112.9,220.5 1113.6,240.9 1114.3,244.0 1115.0,243.2 1115.7,251.8 1116.4,251.2 1117.1,259.1 1117.8,257.2 1118.5,253.3 1119.3,234.0 1120.0,233.1 1120.8,215.6 1121.5,205.6 1122.3,193.5 1123.0,182.5 1123.8,182.3 1124.5,185.4 1125.2,181.9 1126.0,184.0 1126.7,193.2 1127.4,200.6 1128.2,209.8 1128.9,224.8 1129.6,216.1 1130.3,231.2 1131.0,234.3 1131.8,238.0 1132.5,242.4 1133.2,246.0 1133.9,242.3 1134.6,239.3 1135.4,239.8 1136.1,237.4 1136.8,238.0 1137.5,233.1 1138.2,226.1 1139.0,215.1 1139.7,215.8 1140.4,208.4 1141.1,201.7 1141.8,197.4 1142.6,194.3 1143.3,191.1 1144.0,184.5 1144.7,187.8 1145.4,194.3 1146.1,200.4 1146.9,199.2 1147.6,205.4 1148.3,209.5 1149.0,213.9 1149.7,219.1 1150.4,224.6 1151.1,235.1 1151.9,239.0 1152.6,238.2 1153.3,247.0 1154.0,246.0 1154.7,245.2 1155.5,240.3 1156.2,243.5 1156.9,230.6 1157.7,229.3 1158.4,227.6 1159.1,215.4 1159.9,215.9 1160.6,221.5 1161.4,201.3 1162.1,214.5 1162.8,199.0 1163.6,190.9 1164.3,186.4 1165.0,182.0 1165.8,183.0 1166.5,169.0 1167.2,173.9 1168.0,183.9 1168.7,191.5 1169.4,203.7 1170.2,207.2 1170.9,227.9 1171.6,221.3 1172.3,226.5 1173.1,221.2 1173.8,239.9 1174.5,241.7 1175.3,255.6 1176.0,248.0 1176.7,249.2 1177.4,245.5 1178.2,243.4 1178.9,246.7 1179.6,240.0 1180.3,231.6 1181.1,232.6 1181.8,227.4 1182.5,233.5 1183.2,220.8 1184.0,213.8 1184.7,216.6 1185.4,201.7 1186.1,201.4 1186.9,195.4 1187.6,193.2 1188.3,187.5 1189.0,192.1 1189.7,196.4 1190.4,200.0 1191.2,202.7 1191.9,198.1 1192.6,213.5 1193.3,234.3 1194.0,221.7 1194.7,236.7 1195.5,237.2 1196.2,234.9 1196.9,254.7 1197.6,246.0 1198.3,241.4 1199.1,240.0 1199.8,235.3 1200.6,227.3 1201.3,227.7 1202.0,229.3 1202.8,218.4 1203.5,216.3 1204.3,209.5 1205.0,206.0 1205.7,208.7 1206.4,206.5 1207.1,212.8 1207.9,215.9 1208.6,219.4 1209.3,215.8 1210.0,224.0 1210.7,221.0 1211.4,212.9 1212.1,217.0 1212.9,215.4 1213.6,219.8 1214.3,209.4 1215.0,205.0 1215.7,209.5 1216.4,212.5 1217.1,218.9 1217.8,218.8 1218.5,219.7 1219.2,226.7 1219.9,227.7 1220.6,229.1 1221.3,231.2 1222.0,237.3 1222.7,236.0 1223.4,235.8 1224.1,233.6 1224.9,229.3 1225.6,225.1 1226.3,219.5 1227.0,223.5 1227.7,213.1 1228.5,220.1 1229.2,216.8 1229.9,213.6 1230.6,206.2 1231.3,200.8 1232.1,201.1 1232.8,201.5 1233.5,200.0 1234.2,206.2 1235.0,208.9 1235.8,217.4 1236.5,215.8 1237.2,230.1 1238.0,237.1 1238.8,243.2 1239.5,249.9 1240.2,248.5 1241.0,251.0 1241.7,251.1 1242.5,250.1 1243.2,242.8 1243.9,238.6 1244.7,235.2 1245.4,228.6 1246.1,220.3 1246.9,210.2 1247.6,217.5 1248.3,210.9 1249.1,205.9 1249.8,203.6 1250.5,194.9 1251.3,192.2 1252.0,183.6 1252.7,195.9 1253.4,195.7 1254.1,200.7 1254.9,203.4 1255.6,210.3 1256.3,213.3 1257.0,233.1 1257.7,221.8 1258.4,225.3 1259.1,231.4 1259.9,234.3 1260.6,242.3 1261.3,240.3 1262.0,241.0 1262.7,243.8 1263.4,236.5 1264.1,241.6 1264.8,226.7 1265.5,221.8 1266.2,219.6 1266.9,221.7 1267.6,212.4 1268.3,224.8 1269.0,207.5 1269.7,205.7 1270.4,201.0 1271.1,203.9 1271.8,209.7 1272.5,211.9 1273.2,218.7 1273.9,220.9 1274.6,222.0 1275.4,222.9 1276.1,230.0 1276.8,234.9 1277.5,233.6 1278.2,237.0 1278.9,224.5 1279.6,239.3 1280.3,239.8 1281.0,234.6 1281.7,241.7 1282.4,237.0 1283.1,231.8 1283.8,240.2 1284.5,227.2 1285.2,230.2 1285.9,225.2 1286.7,225.9 1287.4,222.2 1288.1,220.5 1288.8,219.1 1289.5,216.1 1290.2,213.8 1290.9,211.7 1291.6,214.9 1292.3,208.9 1293.0,207.0 1293.7,209.5 1294.4,212.5 1295.2,215.4 1295.9,216.0 1296.6,214.5 1297.3,220.6 1298.0,222.9 1298.8,221.1 1299.5,231.3 1300.2,228.4 1300.9,234.0 1301.6,237.2 1302.4,237.0 1303.1,243.9 1303.8,239.3 1304.5,250.2 1305.3,238.6 1306.0,236.4 1306.7,232.6 1307.5,231.2 1308.2,233.0 1308.9,223.9 1309.7,220.8 1310.4,218.8 1311.1,205.1 1311.8,206.4 1312.6,199.6 1313.3,192.0 1314.0,201.0 1314.8,183.7 1315.5,183.6 1316.2,186.3 1316.9,197.4 1317.7,191.0 1318.4,204.4 1319.1,206.9 1319.8,214.0 1320.5,219.5 1321.3,221.5 1322.0,220.1 1322.7,231.9 1323.4,222.9 1324.2,242.9 1324.9,231.8 1325.6,239.3 1326.3,241.0 1327.0,240.5 1327.8,237.9 1328.5,235.4 1329.2,227.1 1329.9,224.3 1330.6,216.1 1331.3,209.0 1332.1,202.4 1332.8,201.3 1333.5,197.8 1334.2,200.2 1334.9,195.2 1335.7,204.9 1336.4,211.5 1337.1,215.9 1337.8,218.2 1338.5,218.7 1339.2,226.4 1340.0,223.6 1340.7,230.3 1341.4,231.6 1342.1,232.2 1342.8,236.3 1343.6,230.3 1344.3,238.3 1345.0,241.0 1345.7,238.4 1346.5,234.1 1347.2,237.4 1347.9,225.2 1348.6,229.5 1349.4,222.2 1350.1,217.2 1350.8,222.8 1351.5,208.2 1352.3,203.4 1353.0,209.7 1353.7,201.4 1354.4,197.2 1355.2,192.9 1355.9,192.8 1356.6,194.5 1357.3,197.8 1358.0,205.1 1358.7,219.4 1359.4,212.4 1360.1,215.5 1360.9,222.9 1361.6,227.9 1362.3,231.9 1363.0,239.6 1363.7,241.9 1364.4,243.5 1365.1,245.2 1365.8,247.6 1366.6,239.8 1367.3,239.1 1368.1,231.0 1368.8,224.8 1369.6,217.8 1370.3,216.5 1371.1,207.5 1371.8,199.6 1372.6,194.4 1373.3,198.5 1374.1,197.9 1374.8,208.0 1375.5,208.7 1376.3,207.1 1377.0,213.2 1377.8,217.5 1378.5,223.2 1379.2,225.2 1380.0,230.1 1380.7,235.7 1381.5,236.8 1382.2,239.8 1382.9,244.6 1383.7,243.6 1384.4,246.0 1385.2,246.1 1385.9,240.7 1386.7,237.0 1387.4,232.3 1388.2,224.6 1388.9,226.5 1389.7,223.9 1390.4,211.4 1391.2,211.9 1391.9,213.6 1392.7,202.0 1393.4,204.0 1394.2,207.6 1394.9,217.2 1395.6,220.0 1396.3,219.7 1397.1,226.6 1397.8,229.8 1398.5,228.5 1399.2,239.1 1400.0,241.1 1400.7,245.5 1401.4,241.4 1402.1,244.2 1402.9,246.9 1403.6,247.7 1404.3,244.5 1405.0,244.0 1405.7,235.8 1406.4,232.8 1407.1,231.7 1407.8,227.6 1408.5,229.5 1409.2,215.7 1409.9,204.5 1410.6,205.5 1411.3,200.4 1412.0,199.5 1412.8,206.7 1413.5,212.8 1414.2,217.1 1415.0,217.5 1415.8,223.0 1416.5,218.9 1417.2,239.0 1418.0,236.9 1418.8,241.2 1419.5,244.3 1420.2,244.0 1420.9,244.7 1421.6,242.4 1422.3,235.6 1423.0,239.0 1423.7,238.1 1424.4,225.6 1425.1,220.0 1425.8,223.0 1426.6,212.8 1427.3,219.3 1428.0,208.1 1428.7,207.3 1429.4,204.0 1430.1,199.8 1430.8,191.9 1431.5,195.3 1432.2,190.3 1432.9,187.0 1433.7,192.9 1434.4,198.2 1435.2,204.3 1435.9,205.1 1436.7,214.3 1437.5,222.4 1438.2,222.4 1439.0,232.3 1439.7,231.1 1440.5,229.5 1441.2,238.7 1442.0,239.3 1442.7,240.0 1443.4,239.6 1444.1,239.2 1444.8,227.4 1445.6,234.9 1446.3,234.5 1447.0,233.6 1447.7,227.9 1448.4,228.6 1449.1,223.5 1449.8,225.0 1450.5,218.4 1451.2,213.8 1451.9,203.8 1452.7,208.3 1453.4,203.1 1454.1,204.5 1454.8,203.2 1455.5,202.0 1456.2,197.7 1457.0,206.8 1457.7,206.6 1458.4,211.6 1459.1,215.5 1459.9,223.3 1460.6,223.7 1461.3,229.2 1462.0,238.8 1462.8,241.2 1463.5,244.6 1464.2,242.4 1464.9,245.2 1465.7,248.7 1466.4,245.2 1467.1,246.2 1467.8,243.2 1468.5,239.3 1469.2,243.0 1469.9,236.3 1470.6,236.6 1471.4,235.0 1472.1,219.0 1472.8,211.2 1473.5,209.2 1474.2,199.6 1474.9,197.7 1475.6,192.0 1476.3,203.1 1477.0,201.3 1477.7,204.5 1478.5,209.3 1479.2,212.6 1479.9,217.4 1480.6,225.5 1481.3,231.7 1482.0,237.0 1482.7,236.1 1483.5,242.0 1484.2,243.2 1484.9,245.3 1485.6,244.3 1486.3,243.2 1487.0,242.2 1487.8,243.8 1488.5,233.4 1489.2,232.6 1489.9,227.7 1490.7,234.3 1491.4,227.6 1492.1,217.6 1492.8,213.2 1493.6,211.3 1494.3,204.0 1495.0,201.1 1495.7,208.8 1496.4,206.5 1497.1,212.4 1497.9,216.5 1498.6,218.6 1499.3,221.0 1500.0,224.6 1500.7,232.2 1501.4,232.4 1502.1,238.0 1502.9,243.8 1503.6,240.2 1504.3,241.0 1505.0,242.6 1505.7,246.8 1506.4,235.1 1507.1,236.6 1507.9,235.6 1508.6,228.0 1509.3,228.3 1510.0,226.2 1510.7,218.1 1511.4,210.8 1512.2,214.2 1512.9,214.1 1513.6,200.9 1514.3,198.6 1515.0,203.3 1515.7,201.0 1516.4,206.5 1517.2,213.8 1517.9,214.7 1518.6,222.5 1519.3,230.0 1520.0,231.6 1520.7,233.8 1521.4,232.3 1522.2,236.3 1522.9,239.4 1523.6,248.0 1524.3,241.0 1525.0,241.8 1525.7,239.8 1526.5,238.2 1527.2,240.0 1527.9,235.8 1528.6,232.4 1529.3,233.3 1530.1,230.8 1530.8,226.5 1531.5,218.5 1532.2,208.8 1533.0,209.1 1533.7,200.1 1534.4,201.1 1535.1,199.9 1535.8,205.9 1536.5,215.0 1537.2,216.0 1537.9,219.0 1538.6,229.7 1539.4,230.3 1540.1,228.9 1540.8,231.5 1541.5,236.9 1542.2,234.9 1542.9,240.2 1543.6,241.0 1544.3,239.3 1545.0,241.4 1545.8,235.6 1546.5,245.6 1547.2,236.2 1547.9,228.1 1548.6,228.9 1549.4,225.7 1550.1,224.5 1550.8,226.5 1551.5,219.1 1552.2,217.4 1553.0,208.5 1553.7,205.9 1554.4,203.6 1555.2,206.5 1555.9,211.2 1556.7,208.7 1557.5,223.3 1558.2,228.5 1559.0,233.8 1559.7,232.3 1560.5,237.7 1561.3,235.6 1562.0,237.9 1562.8,237.6 1563.5,238.7 1564.2,239.7 1564.9,237.9 1565.6,236.7 1566.3,234.8 1567.0,234.0 1567.7,228.0 1568.4,228.3 1569.1,230.1 1569.9,229.9 1570.6,229.0 1571.3,227.2 1572.0,220.4 1572.7,224.5 1573.4,218.9 1574.1,214.8 1574.8,208.2 1575.5,207.5 1576.2,207.0 1576.9,208.5 1577.6,212.8 1578.3,216.1 1579.1,220.1 1579.8,223.0 1580.5,224.8 1581.2,229.0 1581.9,224.4 1582.6,227.0 1583.3,237.3 1584.1,238.8 1584.8,239.9 1585.5,239.2 1586.2,239.3 1586.9,224.6 1587.7,236.4 1588.4,241.5 1589.2,238.4 1589.9,230.3 1590.6,227.8 1591.4,226.6 1592.1,216.6 1592.8,223.1 1593.6,219.1 1594.3,219.3 1595.0,218.2 1595.8,215.8 1596.5,215.3 1597.3,213.4 1598.0,210.3 1598.7,211.7 1599.4,214.1 1600.1,214.9 1600.9,217.9 1601.6,221.1 1602.3,216.4 1603.0,224.5 1603.7,229.4 1604.4,234.6 1605.1,230.3 1605.9,231.3 1606.6,237.9 1607.3,239.3 1608.0,239.3 1608.7,236.6 1609.4,243.1 1610.1,232.1 1610.8,236.2 1611.5,230.1 1612.2,224.5 1612.9,223.9 1613.6,221.5 1614.3,212.7 1615.0,216.3 1615.7,204.5 1616.4,203.6 1617.1,206.4 1617.9,213.1 1618.6,227.4 1619.4,215.0 1620.1,221.2 1620.8,226.2 1621.6,234.2 1622.3,231.6 1623.0,238.5 1623.8,239.7 1624.5,236.5 1625.3,240.7 1626.0,241.0 1626.7,237.4 1627.4,241.3 1628.2,236.4 1628.9,234.1 1629.6,226.0 1630.3,224.8 1631.0,220.8 1631.8,217.8 1632.5,212.0 1633.2,217.5 1633.9,210.1 1634.6,203.1 1635.3,199.3 1636.1,190.9 1636.8,189.4 1637.5,188.6 1638.2,189.8 1639.0,194.0 1639.7,198.8 1640.4,199.1 1641.2,203.8 1641.9,204.8 1642.6,215.9 1643.3,213.9 1644.1,223.0 1644.8,227.9 1645.5,229.8 1646.3,237.6 1647.0,234.4 1647.7,237.1 1648.5,239.0 1649.2,242.6 1650.0,237.6 1650.7,239.9 1651.5,236.0 1652.2,230.2 1653.0,225.3 1653.7,217.7 1654.5,213.0 1655.2,207.7 1656.0,201.1 1656.7,203.7 1657.4,209.9 1658.1,212.3 1658.8,217.9 1659.5,227.2 1660.2,229.9 1661.0,231.1 1661.7,224.7 1662.4,240.9 1663.1,239.4 1663.8,238.7 1664.5,243.6 1665.2,240.0 1666.0,239.1 1666.7,236.9 1667.5,234.3 1668.2,233.8 1669.0,239.8 1669.8,229.8 1670.5,227.8 1671.3,219.9 1672.0,214.6 1672.8,208.2 1673.5,210.8 1674.3,206.1 1675.0,207.1 1675.7,207.1 1676.5,213.6 1677.2,218.0 1677.9,227.7 1678.6,215.7 1679.3,225.9 1680.1,230.7 1680.8,231.4 1681.5,233.4 1682.2,233.8 1683.0,241.2 1683.7,235.0 1684.4,237.6 1685.1,239.7 1685.9,235.8 1686.6,230.6 1687.4,234.4 1688.1,233.7 1688.8,231.3 1689.6,221.2 1690.3,230.6 1691.1,220.9 1691.8,214.5 1692.6,215.6 1693.3,211.8 1694.0,208.7 1694.8,210.8 1695.5,205.5 1696.3,206.1 1697.0,203.6 1697.7,208.1 1698.4,209.2 1699.1,223.2 1699.9,225.2 1700.6,237.0 1701.3,232.3 1702.0,237.0" fill="none" stroke="#4f7aab" stroke-width="2.0" stroke-linejoin="round"/>
<path d="M1038.4,39.900000000000006 V429.0" stroke="#000" stroke-width="3.6" fill="none"/>
<path d="M1036.6000000000001,427.2 H1188.9" stroke="#3a2230" stroke-width="3.6" fill="none"/>
<path d="M1188.9,427.2 H1703.7" stroke="#000" stroke-width="3.6" fill="none"/>
<path d="M1040.2,41.7 H1051.2" stroke="#000" stroke-width="3.6"/>
<path d="M1040.2,137.5 H1051.2" stroke="#3a2230" stroke-width="3.6"/>
<path d="M1040.2,234.7 H1051.2" stroke="#3a2230" stroke-width="3.6"/>
<path d="M1040.2,330.3 H1051.2" stroke="#3a2230" stroke-width="3.6"/>
<path d="M1261.0,427.2 V414.59999999999997" stroke="#000" stroke-width="3.6"/>
<path d="M1481.4,427.2 V414.59999999999997" stroke="#000" stroke-width="3.6"/>
<path d="M1701.9,427.2 V414.59999999999997" stroke="#000" stroke-width="3.6"/>
<text x="51.00" y="51.6" font-size="34.60" textLength="71.60" lengthAdjust="spacingAndGlyphs">-124</text>
<text x="51.00" y="146.8" font-size="34.60" textLength="72.62" lengthAdjust="spacingAndGlyphs">-126</text>
<text x="51.00" y="244.2" font-size="34.60" textLength="72.62" lengthAdjust="spacingAndGlyphs">-128</text>
<text x="51.00" y="339.8" font-size="34.60" textLength="72.62" lengthAdjust="spacingAndGlyphs">-130</text>
<text x="51.00" y="436.7" font-size="34.60" textLength="71.15" lengthAdjust="spacingAndGlyphs">-132</text>
<text x="130.00" y="486.4" font-size="33.40" textLength="19.86" lengthAdjust="spacingAndGlyphs">0</text>
<text x="305.00" y="486.4" font-size="33.40" textLength="99.14" lengthAdjust="spacingAndGlyphs">10000</text>
<text x="518.00" y="486.4" font-size="33.40" textLength="99.62" lengthAdjust="spacingAndGlyphs">20000</text>
<text x="732.00" y="486.4" font-size="33.40" textLength="98.08" lengthAdjust="spacingAndGlyphs">30000</text>
<text x="226.00" y="524.8" font-size="40.40" textLength="497.06" lengthAdjust="spacingAndGlyphs">Шаг моделирования AIMD</text>
<text transform="translate(38.8,384.00) rotate(-90)" font-size="38.40" textLength="307.12" lengthAdjust="spacingAndGlyphs">Энергия, эВ/ф.е.</text>
<text x="613.00" y="56.9" font-size="39.60" textLength="35.34" lengthAdjust="spacingAndGlyphs">Al</text>
<text x="649.50" y="65.7" font-size="25.80" textLength="36.12" lengthAdjust="spacingAndGlyphs">3.3</text>
<text x="686.50" y="56.9" font-size="39.60" textLength="35.16" lengthAdjust="spacingAndGlyphs">La</text>
<text x="726.50" y="65.7" font-size="25.80" textLength="14.54" lengthAdjust="spacingAndGlyphs">6</text>
<text x="741.00" y="56.9" font-size="39.60" textLength="41.22" lengthAdjust="spacingAndGlyphs">Se</text>
<text x="783.00" y="65.7" font-size="25.80" textLength="29.72" lengthAdjust="spacingAndGlyphs">14</text>
<text x="950.00" y="53.0" font-size="34.60" textLength="51.21" lengthAdjust="spacingAndGlyphs">-67</text>
<text x="950.00" y="148.4" font-size="34.60" textLength="51.21" lengthAdjust="spacingAndGlyphs">-68</text>
<text x="950.00" y="245.4" font-size="34.60" textLength="51.21" lengthAdjust="spacingAndGlyphs">-69</text>
<text x="950.00" y="341.4" font-size="34.60" textLength="51.16" lengthAdjust="spacingAndGlyphs">-70</text>
<text x="950.00" y="438.6" font-size="34.60" textLength="51.21" lengthAdjust="spacingAndGlyphs">-71</text>
<text x="1030.00" y="488.3" font-size="33.40" textLength="19.86" lengthAdjust="spacingAndGlyphs">0</text>
<text x="1211.00" y="488.3" font-size="33.40" textLength="100.23" lengthAdjust="spacingAndGlyphs">10000</text>
<text x="1430.50" y="488.3" font-size="33.40" textLength="101.62" lengthAdjust="spacingAndGlyphs">20000</text>
<text x="1653.00" y="488.3" font-size="33.40" textLength="98.59" lengthAdjust="spacingAndGlyphs">30000</text>
<text x="1138.00" y="524.8" font-size="40.40" textLength="496.56" lengthAdjust="spacingAndGlyphs">Шаг моделирования AIMD</text>
<text transform="translate(918.8,384.00) rotate(-90)" font-size="38.40" textLength="307.12" lengthAdjust="spacingAndGlyphs">Энергия, эВ/ф.е.</text>
<text x="1548.00" y="58.4" font-size="39.60" textLength="42.80" lengthAdjust="spacingAndGlyphs">Zn</text>
<text x="1593.00" y="58.4" font-size="39.60" textLength="35.16" lengthAdjust="spacingAndGlyphs">La</text>
<text x="1633.00" y="67.2" font-size="25.80" textLength="13.84" lengthAdjust="spacingAndGlyphs">3</text>
<text x="1648.00" y="58.4" font-size="39.60" textLength="55.61" lengthAdjust="spacingAndGlyphs">AlS</text>
<text x="1704.50" y="66.8" font-size="25.80" textLength="15.12" lengthAdjust="spacingAndGlyphs">7</text>
</svg></body></html>
